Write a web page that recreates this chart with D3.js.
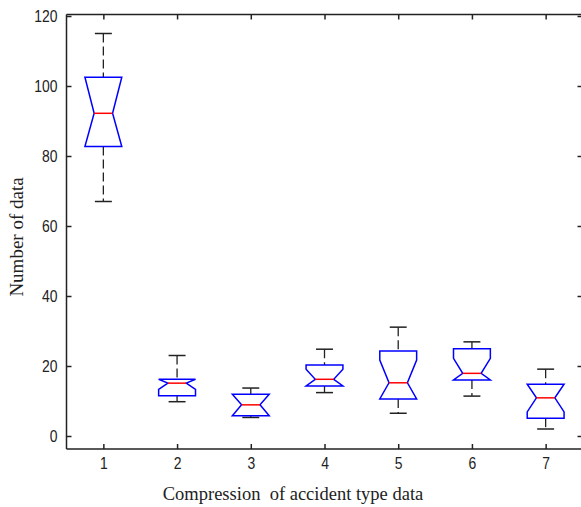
<!DOCTYPE html>
<html><head><meta charset="utf-8">
<script src="https://cdn.jsdelivr.net/npm/d3@7"></script>
<style>body{margin:0;background:#fff}svg{display:block}</style>
</head><body>
<script>
// Data
const categories = [1, 2, 3, 4, 5, 6, 7];
const whiskerHigh = [115, 23.0, 13.7, 24.8, 31.1, 26.9, 19.1];
const q3 =          [102.5, 16.2, 11.9, 20.3, 24.3, 24.9, 14.8];
const notchHigh =   [102.5, 16.2, 11.9, 19.1, 21.7, 22.2, 14.8];
const medians =     [92.2, 15.1, 8.9, 16.2, 15.2, 17.9, 10.9];
const notchLow =    [82.7, 13.3, 5.8, 14.3, 10.6, 16.0, 6.9];
const q1 =          [82.7, 11.5, 5.8, 14.3, 10.6, 16.0, 5.1];
const whiskerLow =  [67, 9.8, 5.3, 12.4, 6.5, 11.4, 2.0];
const yTicks = [0, 20, 40, 60, 80, 100, 120];
const xTitle = "Compression\u00a0 of accident type data";
const yTitle = "Number of data";

(function(){
const W = 581, H = 507;
const svg = d3.select("body").append("svg").attr("width", W).attr("height", H);

const x = d3.scaleLinear().domain([0.5, 7.5]).range([66.5, 582.5]);
const y = d3.scaleLinear().domain([0, 120]).range([436, 16]);
const topY = 14.5, bottomY = 449;
const axisColor = "#222";

const frame = svg.append("g").attr("stroke", axisColor).attr("stroke-width", 1.5).attr("fill", "none");
frame.append("line").attr("x1", 66.5).attr("x2", 66.5).attr("y1", topY).attr("y2", bottomY);
frame.append("line").attr("x1", 66.5).attr("x2", 582.5).attr("y1", bottomY).attr("y2", bottomY);
frame.append("line").attr("x1", 66.5).attr("x2", 582.5).attr("y1", topY).attr("y2", topY);
frame.append("line").attr("x1", 582.5).attr("x2", 582.5).attr("y1", topY).attr("y2", bottomY);

function styleAxis(g, showLabels) {
  g.select(".domain").remove();
  g.selectAll(".tick line").attr("stroke", axisColor).attr("stroke-width", 1.5);
  if (!showLabels) g.selectAll(".tick text").remove();
  else g.selectAll(".tick text").attr("fill", "#222")
        .style("font-family", "'Liberation Sans', Arial, sans-serif").style("font-size", "17px");
}

const gl = svg.append("g").attr("transform", "translate(66.5,0)")
  .call(d3.axisLeft(y).tickValues(yTicks).tickSize(-5).tickPadding(9));
styleAxis(gl, true);
gl.selectAll(".tick text").attr("x", 0).attr("transform", "translate(-9,0) scale(0.82,1)");
const gr = svg.append("g").attr("transform", "translate(582.5,0)")
  .call(d3.axisRight(y).tickValues(yTicks).tickSize(-5));
styleAxis(gr, false);
const gb = svg.append("g").attr("transform", `translate(0,${bottomY})`)
  .call(d3.axisBottom(x).tickValues(categories).tickFormat(d3.format("d")).tickSize(-5).tickPadding(8));
styleAxis(gb, true);
gb.selectAll(".tick text").attr("transform", "scale(0.82,1)");
const gt = svg.append("g").attr("transform", `translate(0,${topY})`)
  .call(d3.axisTop(x).tickValues(categories).tickSize(-5));
styleAxis(gt, false);

const bw = 0.25, nw = 0.125, cw = 0.115;
const g = svg.append("g");
categories.forEach((c, i) => {
  const cx = x(c), hw = x(c + bw) - cx, hn = x(c + nw) - cx, hc = x(c + cw) - cx;
  g.append("line").attr("x1", cx).attr("x2", cx).attr("y1", y(whiskerHigh[i])).attr("y2", y(q3[i]))
    .attr("stroke", "#222").attr("stroke-width", 1.3).attr("stroke-dasharray", "9,4");
  g.append("line").attr("x1", cx).attr("x2", cx).attr("y1", y(q1[i])).attr("y2", y(whiskerLow[i]))
    .attr("stroke", "#222").attr("stroke-width", 1.3).attr("stroke-dasharray", "9,4");
  g.append("line").attr("x1", cx - hc).attr("x2", cx + hc).attr("y1", y(whiskerHigh[i])).attr("y2", y(whiskerHigh[i]))
    .attr("stroke", "#222").attr("stroke-width", 1.5);
  g.append("line").attr("x1", cx - hc).attr("x2", cx + hc).attr("y1", y(whiskerLow[i])).attr("y2", y(whiskerLow[i]))
    .attr("stroke", "#222").attr("stroke-width", 1.5);
  const pts = [
    [cx - hw, y(q3[i])], [cx + hw, y(q3[i])], [cx + hw, y(notchHigh[i])], [cx + hn, y(medians[i])],
    [cx + hw, y(notchLow[i])], [cx + hw, y(q1[i])], [cx - hw, y(q1[i])], [cx - hw, y(notchLow[i])],
    [cx - hn, y(medians[i])], [cx - hw, y(notchHigh[i])]
  ];
  g.append("path").attr("d", d3.line()(pts) + "Z").attr("fill", "none")
    .attr("stroke", "#0000ff").attr("stroke-width", 1.5).attr("stroke-linejoin", "miter");
  g.append("line").attr("x1", cx - hn).attr("x2", cx + hn).attr("y1", y(medians[i])).attr("y2", y(medians[i]))
    .attr("stroke", "#ff0000").attr("stroke-width", 1.5);
});

svg.append("text").attr("x", 293).attr("y", 500).attr("text-anchor", "middle")
  .style("font-family", "'Liberation Serif', 'Times New Roman', serif").style("font-size", "18.5px")
  .attr("fill", "#222").text(xTitle);
svg.append("text").attr("transform", "translate(23,237) rotate(-90)").attr("text-anchor", "middle")
  .style("font-family", "'Liberation Serif', 'Times New Roman', serif").style("font-size", "19px")
  .attr("fill", "#222").text(yTitle);
})();
</script>
</body></html>
